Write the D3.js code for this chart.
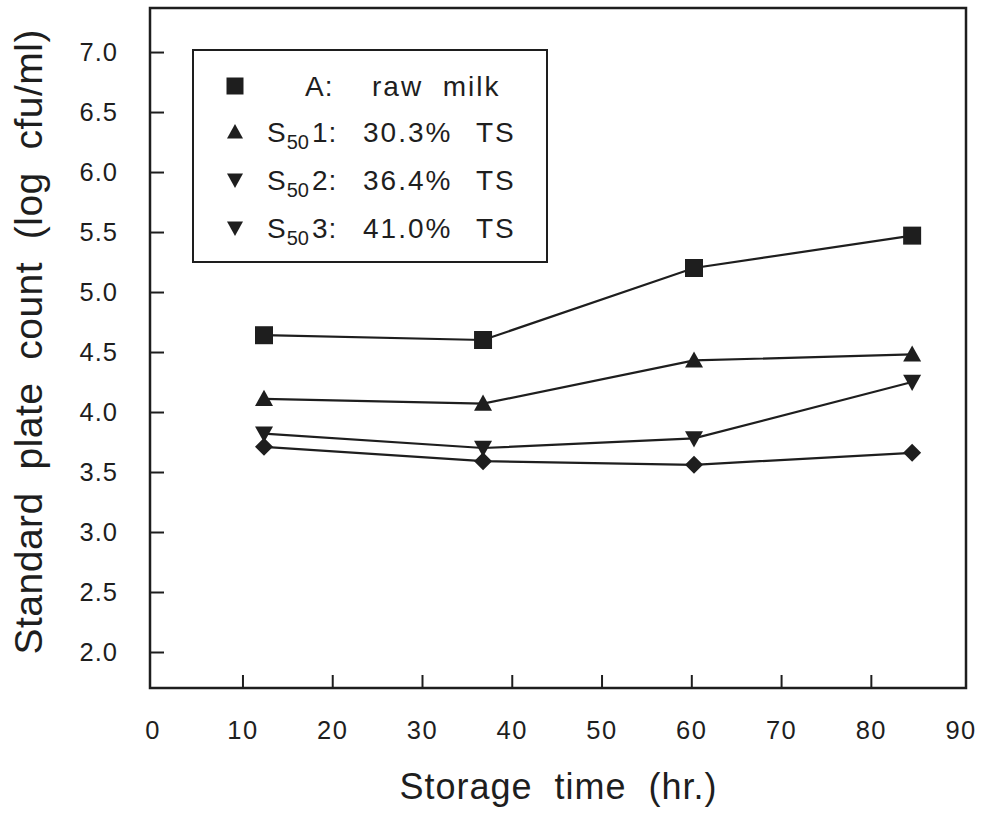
<!DOCTYPE html>
<html><head><meta charset="utf-8">
<script src="https://cdn.jsdelivr.net/npm/d3@7/dist/d3.min.js"></script>
<style>
html,body{margin:0;padding:0;background:#fff;}
svg{display:block;font-family:"Liberation Sans",Arial,sans-serif;}
</style></head>
<body><svg id="c" width="987" height="817"></svg>
<script>
// ---- data ----
const times = [12.4, 36.8, 60.3, 84.6];
const rawMilk = [4.64, 4.60, 5.20, 5.47];
const s501 = [4.11, 4.07, 4.43, 4.48];
const s502 = [3.82, 3.70, 3.78, 4.25];
const s503 = [3.71, 3.59, 3.56, 3.66];
const xTicks = [0, 10, 20, 30, 40, 50, 60, 70, 80, 90];
const yTicks = [2.0, 2.5, 3.0, 3.5, 4.0, 4.5, 5.0, 5.5, 6.0, 6.5, 7.0];
const seriesMarkers = ["square", "triUp", "triDown", "diamond"];
const legendMarkers = ["square", "triUp", "triDown", "triDown"];
const legendPrefix = ["A:", "1:", "2:", "3:"];
const legendValues = ["raw  milk", "30.3%", "36.4%", "41.0%"];
const xTitle = "Storage  time  (hr.)";
const yTitle = "Standard  plate  count  (log  cfu/ml)";

const series = [rawMilk, s501, s502, s503];

const svg = d3.select("#c");
const L = 150, R = 966, T = 8, B = 688;
const x = d3.scaleLinear().domain([-0.3, 90.6]).range([L, R]);
const y = d3.scaleLinear().domain([1.7, 7.367]).range([B, T]);
const ink = "#1e1e1e";

function markerPath(type, s) {
  const h = s / 2;
  if (type === "square") return `M${-h},${-h}H${h}V${h}H${-h}Z`;
  if (type === "triUp") return `M0,${-h}L${h},${h * 0.8}L${-h},${h * 0.8}Z`;
  if (type === "triDown") return `M0,${h}L${h},${-h * 0.8}L${-h},${-h * 0.8}Z`;
  if (type === "diamond") return `M0,${-h}L${h},0L0,${h}L${-h},0Z`;
}

// axes
const gx = svg.append("g").attr("transform", `translate(0,${B})`)
  .call(d3.axisBottom(x).tickValues(xTicks).tickFormat(d3.format("d"))
    .tickSizeInner(-13).tickSizeOuter(0).tickPadding(33));
gx.select(".domain").remove();
gx.selectAll(".tick line").attr("stroke", ink).attr("stroke-width", 2)
  .filter(d => d === 0 || d === 90).remove();
gx.selectAll(".tick text").attr("font-size", 25.5).attr("fill", ink)
  .attr("font-family", "Liberation Sans, Arial, sans-serif").attr("letter-spacing", 1.5);

const gy = svg.append("g").attr("transform", `translate(${L},0)`)
  .call(d3.axisLeft(y).tickValues(yTicks).tickFormat(d3.format(".1f"))
    .tickSizeInner(-14).tickSizeOuter(0).tickPadding(32));
gy.select(".domain").remove();
gy.selectAll(".tick line").attr("stroke", ink).attr("stroke-width", 2);
gy.selectAll(".tick text").attr("font-size", 25.5).attr("fill", ink)
  .attr("font-family", "Liberation Sans, Arial, sans-serif").attr("letter-spacing", 1);

// frame
svg.append("rect").attr("x", L).attr("y", T).attr("width", R - L).attr("height", B - T)
  .attr("fill", "none").attr("stroke", ink).attr("stroke-width", 2.5);

// series
const line = d3.line().x((d, i) => x(times[i])).y(d => y(d));
series.forEach((vals, si) => {
  svg.append("path").attr("d", line(vals)).attr("fill", "none")
    .attr("stroke", ink).attr("stroke-width", 2.2);
  svg.append("g").selectAll("path").data(vals).join("path")
    .attr("transform", (d, i) => `translate(${x(times[i])},${y(d)})`)
    .attr("d", markerPath(seriesMarkers[si], 18))
    .attr("fill", ink);
});

// legend
svg.append("rect").attr("x", 193).attr("y", 50).attr("width", 354).attr("height", 212)
  .attr("fill", "#fff").attr("stroke", ink).attr("stroke-width", 2);
const rowY = [86, 132, 180, 228];
legendMarkers.forEach((m, i) => {
  svg.append("path").attr("transform", `translate(235,${rowY[i]})`)
    .attr("d", markerPath(m, i === 0 ? 17 : 16)).attr("fill", ink);
  const base = rowY[i] + 10;
  if (i === 0) {
    svg.append("text").attr("x", 305).attr("y", base).attr("font-size", 28)
      .attr("fill", ink).attr("letter-spacing", 1).text(legendPrefix[i]);
    svg.append("text").attr("x", 372).attr("y", base).attr("font-size", 28)
      .attr("fill", ink).style("white-space", "pre").attr("letter-spacing", 2)
      .text(legendValues[i]);
  } else {
    const t = svg.append("text").attr("x", 267).attr("y", base).attr("font-size", 28)
      .attr("fill", ink);
    t.append("tspan").text("S");
    t.append("tspan").attr("font-size", 20).attr("dy", 7).attr("dx", 1).text("50");
    t.append("tspan").attr("dy", -7).attr("dx", 3).attr("letter-spacing", 1).text(legendPrefix[i]);
    svg.append("text").attr("x", 363).attr("y", base).attr("font-size", 28)
      .attr("fill", ink).attr("letter-spacing", 2).text(legendValues[i]);
    svg.append("text").attr("x", 476).attr("y", base).attr("font-size", 28)
      .attr("fill", ink).attr("letter-spacing", 2).text("TS");
  }
});

// titles
svg.append("text").attr("x", 558).attr("y", 799).attr("text-anchor", "middle")
  .attr("font-size", 36).attr("fill", ink).style("white-space", "pre")
  .attr("textLength", 317).attr("lengthAdjust", "spacing").text(xTitle);
svg.append("text").attr("transform", "translate(42,342) rotate(-90)")
  .attr("text-anchor", "middle").attr("font-size", 39).attr("fill", ink)
  .style("white-space", "pre")
  .attr("textLength", 625).attr("lengthAdjust", "spacing").text(yTitle);
</script></body></html>
